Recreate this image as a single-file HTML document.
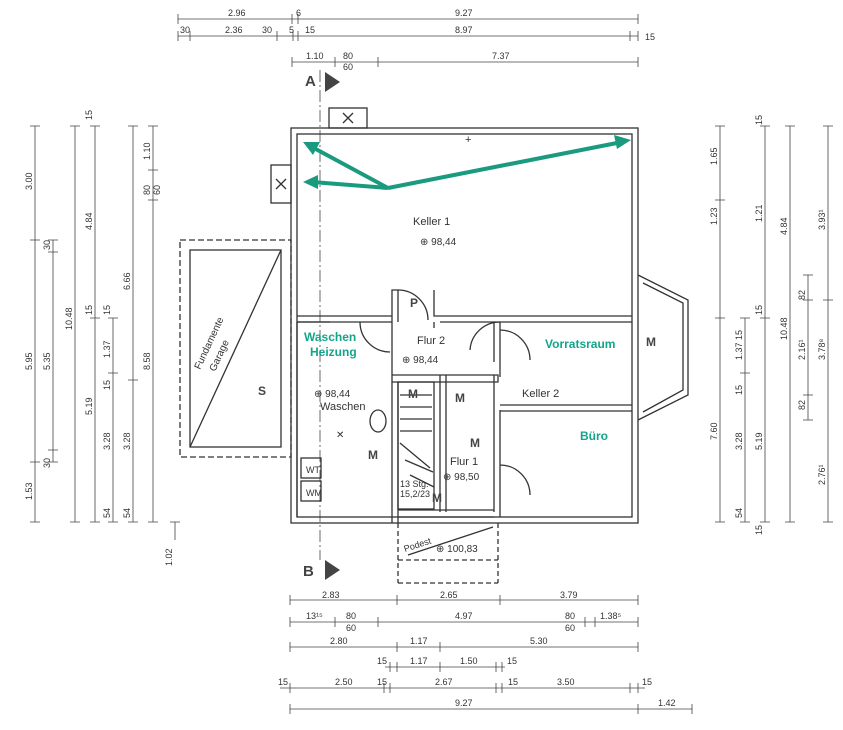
<!DOCTYPE html>
<html><head><meta charset="utf-8"><style>
body{margin:0;background:#fff;width:843px;height:730px;overflow:hidden}
svg{display:block}
text{font-family:"Liberation Sans",sans-serif;fill:#333}
.d{font-size:9px;fill:#444}
.l{stroke:#444;stroke-width:0.8;fill:none}
.w{stroke:#333;stroke-width:1.3;fill:none}
.g{font-size:12px;font-weight:bold;fill:#13a58a}
.m{font-size:12px;font-weight:bold;fill:#444}
</style></head><body>
<svg width="843" height="730" viewBox="0 0 843 730">
<g class="l">
<!-- top dims -->
<line x1="178" y1="19" x2="638" y2="19"/><line x1="178" y1="36" x2="638" y2="36"/><line x1="292" y1="62" x2="638" y2="62"/>
<path d="M178 14v10M292 14v10M298 14v10M638 14v10M178 31v10M190 31v10M277 31v10M293 31v10M298 31v10M630 31v10M638 31v10M292 57v10M335 57v10M378 57v10M638 57v10"/>
<!-- left dims -->
<line x1="35" y1="126" x2="35" y2="522"/><line x1="53" y1="240" x2="53" y2="462"/><line x1="75" y1="126" x2="75" y2="522"/><line x1="95" y1="126" x2="95" y2="522"/><line x1="113" y1="318" x2="113" y2="522"/><line x1="133" y1="126" x2="133" y2="522"/><line x1="153" y1="126" x2="153" y2="522"/>
<path d="M30 126h10M30 240h10M30 462h10M30 522h10M48 240h10M48 252h10M48 450h10M48 462h10M70 126h10M70 522h10M90 126h10M90 318h10M90 522h10M108 318h10M108 373h10M108 522h10M128 126h10M128 380h10M128 522h10M148 126h10M148 170h10M148 200h10M148 522h10M170 522h10"/>
<line x1="175" y1="522" x2="175" y2="540"/>
<!-- right dims -->
<line x1="720" y1="126" x2="720" y2="522"/><line x1="745" y1="318" x2="745" y2="522"/><line x1="765" y1="126" x2="765" y2="522"/><line x1="790" y1="126" x2="790" y2="522"/><line x1="808" y1="275" x2="808" y2="420"/><line x1="828" y1="126" x2="828" y2="522"/>
<path d="M715 126h10M715 200h10M715 318h10M715 522h10M740 318h10M740 373h10M740 522h10M760 126h10M760 318h10M760 522h10M785 126h10M785 522h10M803 275h10M803 300h10M803 395h10M803 420h10M823 126h10M823 300h10M823 522h10"/>
<!-- bottom dims -->
<line x1="290" y1="600" x2="638" y2="600"/><line x1="290" y1="622" x2="638" y2="622"/><line x1="290" y1="647" x2="638" y2="647"/><line x1="385" y1="667" x2="505" y2="667"/><line x1="280" y1="688" x2="645" y2="688"/><line x1="290" y1="709" x2="692" y2="709"/>
<path d="M290 595v10M397 595v10M500 595v10M638 595v10M290 617v10M335 617v10M378 617v10M585 617v10M595 617v10M638 617v10M290 642v10M397 642v10M440 642v10M638 642v10M390 662v10M397 662v10M440 662v10M496 662v10M502 662v10M290 683v10M384 683v10M390 683v10M496 683v10M502 683v10M630 683v10M638 683v10M290 704v10M638 704v10M692 704v10"/>
<!-- section line -->
<line x1="320" y1="70" x2="320" y2="560" stroke-dasharray="12,3,2,3"/>
</g>
<g class="d">
<text x="228" y="16">2.96</text><text x="296" y="16">6</text><text x="455" y="16">9.27</text>
<text x="180" y="33">30</text><text x="225" y="33">2.36</text><text x="262" y="33">30</text><text x="289" y="33">5</text><text x="305" y="33">15</text><text x="455" y="33">8.97</text><text x="645" y="40">15</text>
<text x="306" y="59">1.10</text><text x="343" y="59">80</text><text x="343" y="70">60</text><text x="492" y="59">7.37</text>
<text x="322" y="598">2.83</text><text x="440" y="598">2.65</text><text x="560" y="598">3.79</text>
<text x="306" y="619">13¹⁵</text><text x="346" y="619">80</text><text x="346" y="631">60</text><text x="455" y="619">4.97</text><text x="565" y="619">80</text><text x="565" y="631">60</text><text x="600" y="619">1.38⁵</text>
<text x="330" y="644">2.80</text><text x="410" y="644">1.17</text><text x="530" y="644">5.30</text>
<text x="377" y="664">15</text><text x="410" y="664">1.17</text><text x="460" y="664">1.50</text><text x="507" y="664">15</text>
<text x="278" y="685">15</text><text x="335" y="685">2.50</text><text x="377" y="685">15</text><text x="435" y="685">2.67</text><text x="508" y="685">15</text><text x="557" y="685">3.50</text><text x="642" y="685">15</text>
<text x="455" y="706">9.27</text><text x="658" y="706">1.42</text>
</g>
<g class="d">
<text transform="translate(32,190) rotate(-90)">3.00</text><text transform="translate(32,370) rotate(-90)">5.95</text><text transform="translate(32,500) rotate(-90)">1.53</text>
<text transform="translate(50,250) rotate(-90)">30</text><text transform="translate(50,370) rotate(-90)">5.35</text><text transform="translate(50,468) rotate(-90)">30</text>
<text transform="translate(72,330) rotate(-90)">10.48</text><text transform="translate(92,120) rotate(-90)">15</text><text transform="translate(92,230) rotate(-90)">4.84</text><text transform="translate(92,315) rotate(-90)">15</text><text transform="translate(92,415) rotate(-90)">5.19</text>
<text transform="translate(110,315) rotate(-90)">15</text><text transform="translate(110,358) rotate(-90)">1.37</text><text transform="translate(110,390) rotate(-90)">15</text><text transform="translate(110,450) rotate(-90)">3.28</text><text transform="translate(110,518) rotate(-90)">54</text>
<text transform="translate(130,290) rotate(-90)">6.66</text><text transform="translate(130,450) rotate(-90)">3.28</text><text transform="translate(130,518) rotate(-90)">54</text>
<text transform="translate(150,160) rotate(-90)">1.10</text><text transform="translate(150,195) rotate(-90)">80</text><text transform="translate(160,195) rotate(-90)">60</text><text transform="translate(150,370) rotate(-90)">8.58</text>
<text transform="translate(172,566) rotate(-90)">1.02</text>
<text transform="translate(717,165) rotate(-90)">1.65</text><text transform="translate(717,225) rotate(-90)">1.23</text><text transform="translate(717,440) rotate(-90)">7.60</text>
<text transform="translate(742,340) rotate(-90)">15</text><text transform="translate(742,360) rotate(-90)">1.37</text><text transform="translate(742,395) rotate(-90)">15</text><text transform="translate(742,450) rotate(-90)">3.28</text><text transform="translate(742,518) rotate(-90)">54</text>
<text transform="translate(762,125) rotate(-90)">15</text><text transform="translate(762,222) rotate(-90)">1.21</text><text transform="translate(762,315) rotate(-90)">15</text><text transform="translate(762,450) rotate(-90)">5.19</text><text transform="translate(762,535) rotate(-90)">15</text>
<text transform="translate(787,235) rotate(-90)">4.84</text><text transform="translate(787,340) rotate(-90)">10.48</text>
<text transform="translate(805,300) rotate(-90)">82</text><text transform="translate(805,360) rotate(-90)">2.16¹</text><text transform="translate(805,410) rotate(-90)">82</text>
<text transform="translate(825,230) rotate(-90)">3.93¹</text><text transform="translate(825,360) rotate(-90)">3.78⁸</text><text transform="translate(825,485) rotate(-90)">2.76¹</text>
</g>
<!-- building walls -->
<g class="w">
<rect x="291" y="128" width="347" height="395"/><rect x="297" y="134" width="335" height="383"/>
<path d="M297 316H392M440 316H632M297 322H392M440 322H632"/>
<path d="M392 322V290h6v32M434 290v26h6"/>
<path d="M392 322v60h6M434 322v6M494 322v40M500 322v55"/>
<path d="M392 382V523M398 382V523M392 375h106v7H398"/>
<path d="M440 375v137M446 375v137"/>
<path d="M494 375v137M500 410v107"/>
<path d="M500 405h132M500 411h132"/>
<path d="M297 322v195M330 322h-33"/>
<path d="M398 510h96M398 517h96"/>
<rect x="329" y="108" width="38" height="20"/><path d="M343 113l10 10M353 113l-10 10"/>
<rect x="271" y="165" width="20" height="38"/><path d="M276 179l10 10M286 179l-10 10"/>
<!-- garage -->
<rect x="180" y="240" width="111" height="217" stroke-dasharray="6,3"/><rect x="190" y="250" width="91" height="197"/><path d="M190 447L281 250"/>
<!-- bay -->
<path d="M638 275l50 25v95l-50 25"/><path d="M643 283l40 20v87l-40 22"/>
<!-- stair -->
<rect x="398" y="382" width="36" height="127"/>
<path d="M400 395h32M400 407h32M400 419h32M400 431h32M400 443l30 25M405 460l28 12M410 475l24 12"/>
<!-- doors -->
<path d="M398 290a30 30 0 0 1 30 30" /><path d="M360 322a30 30 0 0 0 30 30"/><path d="M470 350a30 30 0 0 1 30-28"/><path d="M500 330a30 30 0 0 1 30 30"/><path d="M500 465a30 30 0 0 1 30 30"/>
<!-- podest -->
<path d="M398 523v60M498 523v60M398 583h100M398 560h100" stroke-dasharray="5,3"/>
<path d="M408 555l85-28"/>
<!-- appliances -->
<rect x="301" y="458" width="20" height="20"/><rect x="301" y="481" width="20" height="20"/>
<ellipse cx="378" cy="421" rx="8" ry="11"/>
</g>
<!-- section markers -->
<polygon points="325,72 340,82 325,92" fill="#444"/><polygon points="325,560 340,570 325,580" fill="#444"/>
<text x="305" y="86" style="font-size:15px;font-weight:bold;fill:#444">A</text>
<text x="303" y="576" style="font-size:15px;font-weight:bold;fill:#444">B</text>
<!-- arrows -->
<g stroke="#1a9a7e" stroke-width="4" fill="#1a9a7e">
<line x1="388" y1="188" x2="312" y2="147"/><line x1="388" y1="188" x2="312" y2="182"/><line x1="388" y1="188" x2="622" y2="142"/>
</g>
<g fill="#1a9a7e"><polygon points="303,142 320,142 313,155"/><polygon points="303,182 318,175 318,189"/><polygon points="631,140 614,135 617,149"/></g>
<!-- labels -->
<text x="413" y="225" style="font-size:11px">Keller 1</text><text x="420" y="245" style="font-size:10px">⊕ 98,44</text>
<text x="417" y="344" style="font-size:11px">Flur 2</text><text x="402" y="363" style="font-size:10px">⊕ 98,44</text>
<text x="314" y="397" style="font-size:10px">⊕ 98,44</text><text x="320" y="410" style="font-size:11px">Waschen</text>
<text x="522" y="397" style="font-size:11px">Keller 2</text>
<text x="450" y="465" style="font-size:11px">Flur 1</text><text x="443" y="480" style="font-size:10px">⊕ 98,50</text>
<text x="400" y="487" style="font-size:9px">13 Stg.</text><text x="400" y="497" style="font-size:9px">15,2/23</text>
<text x="405" y="552" style="font-size:9px" transform="rotate(-18 405 552)">Podest</text><text x="436" y="552" style="font-size:10px">⊕ 100,83</text>
<text x="258" y="395" class="m">S</text>
<text transform="translate(200,370) rotate(-65)" style="font-size:10px">Fundamente</text><text transform="translate(215,372) rotate(-65)" style="font-size:10px">Garage</text>
<text x="304" y="341" class="g">Waschen</text><text x="310" y="356" class="g">Heizung</text>
<text x="545" y="348" class="g">Vorratsraum</text><text x="580" y="440" class="g">Büro</text>
<text x="410" y="307" class="m">P</text><text x="646" y="346" class="m">M</text><text x="408" y="398" class="m">M</text><text x="455" y="402" class="m">M</text><text x="470" y="447" class="m">M</text><text x="368" y="459" class="m">M</text><text x="432" y="502" class="m">M</text>
<text x="306" y="473" style="font-size:9px">WT</text><text x="306" y="496" style="font-size:9px">WM</text>
<text x="336" y="438" style="font-size:10px">✕</text><text x="465" y="143" style="font-size:11px">+</text>
</svg>
</body></html>
